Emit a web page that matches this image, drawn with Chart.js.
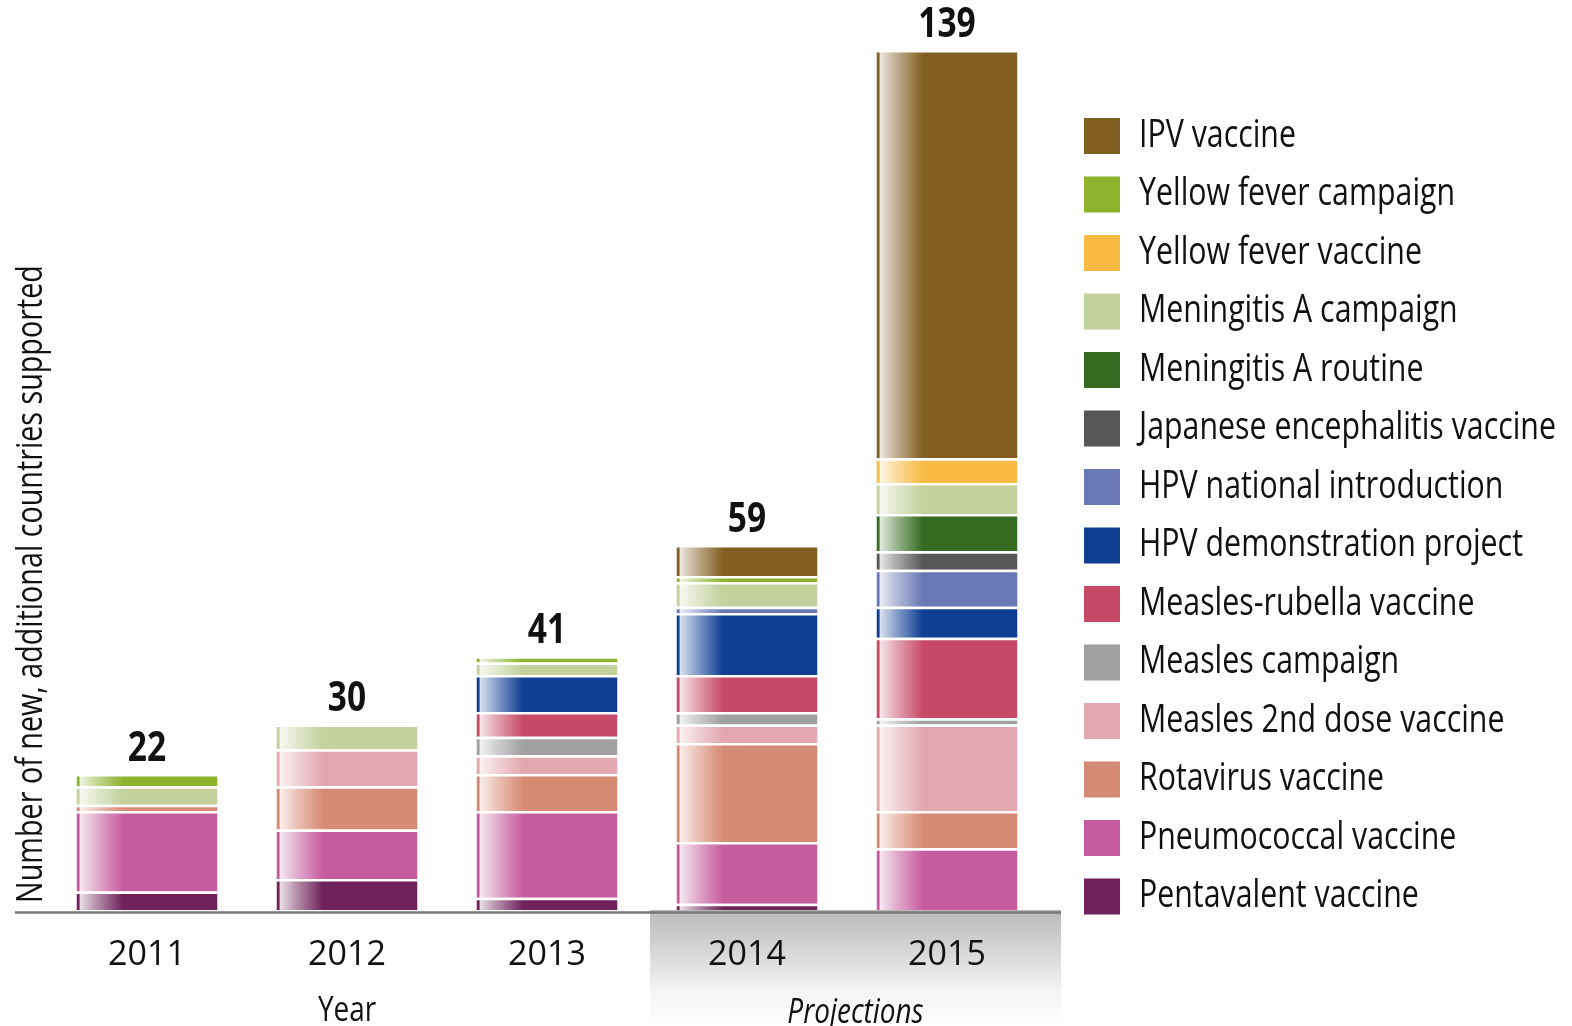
<!DOCTYPE html>
<html>
<head>
<meta charset="utf-8">
<script src="https://cdn.jsdelivr.net/npm/chart.js@4.4.0/dist/chart.umd.min.js"></script>
<style>
  html, body { margin: 0; padding: 0; background: #fff; }
  #wrap { width: 1572px; height: 1026px; position: relative; }
</style>
</head>
<body>
<div id="wrap"><canvas id="chart" width="1572" height="1026"></canvas></div>
<script>
// categories
const years = ["2011", "2012", "2013", "2014", "2015"];

// series, bottom of the stack first
const pentavalent     = [3, 5, 2, 1, 0];
const pneumococcal    = [13, 8, 14, 10, 10];
const rotavirus       = [1, 7, 6, 16, 6];
const measles2ndDose  = [0, 6, 3, 3, 14];
const measlesCampaign = [0, 0, 3, 2, 1];
const measlesRubella  = [0, 0, 4, 6, 13];
const hpvDemo         = [0, 0, 6, 10, 5];
const hpvNational     = [0, 0, 0, 1, 6];
const japaneseEnc     = [0, 0, 0, 0, 3];
const menARoutine     = [0, 0, 0, 0, 6];
const menACampaign    = [3, 4, 2, 4, 5];
const yfVaccine       = [0, 0, 0, 0, 4];
const yfCampaign      = [2, 0, 1, 1, 0];
const ipvVaccine      = [0, 0, 0, 5, 66];

const seriesNames = [
  "Pentavalent vaccine", "Pneumococcal vaccine", "Rotavirus vaccine",
  "Measles 2nd dose vaccine", "Measles campaign", "Measles-rubella vaccine",
  "HPV demonstration project", "HPV national introduction",
  "Japanese encephalitis vaccine", "Meningitis A routine",
  "Meningitis A campaign", "Yellow fever vaccine", "Yellow fever campaign",
  "IPV vaccine"
];
const seriesValues = [
  pentavalent, pneumococcal, rotavirus, measles2ndDose, measlesCampaign,
  measlesRubella, hpvDemo, hpvNational, japaneseEnc, menARoutine,
  menACampaign, yfVaccine, yfCampaign, ipvVaccine
];
const seriesColors = [
  "#6e2259", "#c65c9e", "#d78a73", "#e2a7af", "#a0a0a0", "#c64a67",
  "#0f3f92", "#6a78b5", "#575757", "#346b21", "#c3d19c", "#f9ba43",
  "#8db32d", "#835e22"
];

const yTitle = "Number of new, additional countries supported";
const xTitle = "Year";
const projTitle = "Projections";

const BAR_PCT = 0.705;
const FONT = "'Open Sans', 'DejaVu Sans', sans-serif";

function lighten(hex, amt) {
  var r = parseInt(hex.substr(1, 2), 16);
  var g = parseInt(hex.substr(3, 2), 16);
  var b = parseInt(hex.substr(5, 2), 16);
  r = Math.round(r + (255 - r) * amt);
  g = Math.round(g + (255 - g) * amt);
  b = Math.round(b + (255 - b) * amt);
  return "rgb(" + r + "," + g + "," + b + ")";
}

function barFill(color) {
  return function (context) {
    var chart = context.chart;
    if (!chart.chartArea || !chart.scales.x) return color;
    var xs = chart.scales.x;
    var cx = xs.getPixelForValue(context.dataIndex);
    var w = (xs.width / years.length) * BAR_PCT;
    var left = cx - w / 2;
    var g = chart.ctx.createLinearGradient(left, 0, left + w, 0);
    g.addColorStop(0, color);
    g.addColorStop(0.018, color);
    g.addColorStop(0.026, lighten(color, 0.85));
    g.addColorStop(0.14, lighten(color, 0.5));
    g.addColorStop(0.33, color);
    g.addColorStop(1, color);
    return g;
  };
}

// squeeze factor so that the text width matches the narrow face of the original
var squeeze = 1;
(function () {
  var c = document.createElement("canvas").getContext("2d");
  c.font = "38px " + FONT;
  squeeze = 417 / c.measureText("Japanese encephalitis vaccine").width;
})();

function drawText(ctx, text, x, y, font, align, rot) {
  ctx.save();
  ctx.font = font;
  ctx.translate(x, y);
  if (rot) ctx.rotate(rot);
  ctx.scale(squeeze, 1);
  ctx.textAlign = align;
  ctx.textBaseline = "middle";
  ctx.fillStyle = "#111";
  ctx.fillText(text, 0, 0);
  ctx.restore();
}

const datasets = seriesNames.map(function (name, i) {
  return {
    label: name,
    data: seriesValues[i].map(function (v) { return v === 0 ? null : v; }),
    backgroundColor: barFill(seriesColors[i]),
    borderColor: "#ffffff",
    borderWidth: { top: 2.5, bottom: 0, left: 0, right: 0 },
    borderSkipped: false,
    barPercentage: BAR_PCT,
    categoryPercentage: 1
  };
});

const decor = {
  id: "decor",
  beforeDraw: function (chart) {
    var ctx = chart.ctx;
    var xs = chart.scales.x;
    var area = chart.chartArea;
    var left = xs.getPixelForValue(3) - 97;
    var right = area.right + 14;
    var g = ctx.createLinearGradient(0, area.bottom, 0, chart.height);
    g.addColorStop(0, "#b9b9b9");
    g.addColorStop(0.7, "#f4f4f4");
    g.addColorStop(1, "#ffffff");
    ctx.save();
    ctx.fillStyle = g;
    ctx.fillRect(left, area.bottom, right - left, chart.height - area.bottom);
    ctx.restore();
  },
  afterDatasetsDraw: function (chart) {
    var ctx = chart.ctx;
    var xs = chart.scales.x;
    var ys = chart.scales.y;
    var area = chart.chartArea;
    // base line
    ctx.save();
    ctx.strokeStyle = "#777";
    ctx.lineWidth = 2.5;
    ctx.beginPath();
    ctx.moveTo(15, area.bottom + 2.5);
    ctx.lineTo(area.right + 14, area.bottom + 2.5);
    ctx.stroke();
    ctx.restore();
    // totals
    years.forEach(function (y, i) {
      var total = 0;
      seriesValues.forEach(function (s) { total += s[i]; });
      drawText(ctx, String(total), xs.getPixelForValue(i),
        ys.getPixelForValue(total) - 25, "bold 42px " + FONT, "center");
    });
  },
  afterDraw: function (chart) {
    var ctx = chart.ctx;
    var xs = chart.scales.x;
    var area = chart.chartArea;
    // legend, top entry is the top of the stack
    var n = seriesNames.length;
    for (var k = 0; k < n; k++) {
      var i = n - 1 - k;
      var top = 118 + k * 58.5;
      ctx.fillStyle = seriesColors[i];
      ctx.fillRect(1084, top, 36, 36);
      drawText(ctx, seriesNames[i], 1139, top + 18, "38px " + FONT, "left");
    }
    // axis titles
    drawText(ctx, yTitle, 32, 584, "36px " + FONT, "center", -Math.PI / 2);
    drawText(ctx, xTitle, xs.getPixelForValue(1), 1011, "35px " + FONT, "center");
    drawText(ctx, projTitle, (xs.getPixelForValue(3) - 97 + area.right + 14) / 2,
      1013, "italic 35px " + FONT, "center");
  }
};

new Chart(document.getElementById("chart"), {
  type: "bar",
  data: { labels: years, datasets: datasets },
  options: {
    responsive: false,
    animation: false,
    layout: { padding: { left: 47, right: 525, top: 50, bottom: 0 } },
    plugins: { legend: { display: false }, tooltip: { enabled: false } },
    scales: {
      x: {
        stacked: true,
        grid: { display: false, drawTicks: false },
        border: { display: false },
        ticks: { color: "#111", font: { family: FONT, size: 34 }, padding: 25 },
        afterFit: function (scale) { scale.height = 116; }
      },
      y: {
        stacked: true,
        display: false,
        min: 0,
        max: 139
      }
    }
  },
  plugins: [decor]
});
</script>
</body>
</html>
